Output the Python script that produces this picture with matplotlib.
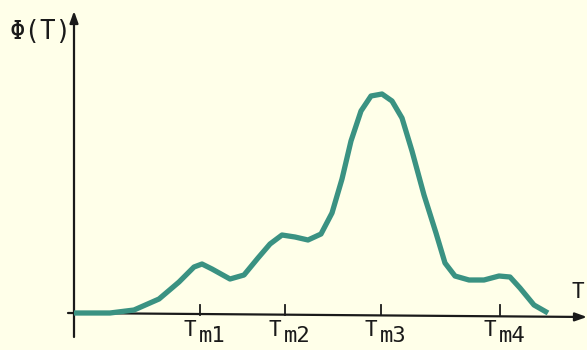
import matplotlib
matplotlib.use("Agg")
import matplotlib.pyplot as plt

# curve values (T in arbitrary units from origin, Phi height)
T = [0, 36, 60, 85, 105, 120, 128, 138, 156, 170, 184, 196, 208, 221, 234, 247,
     258, 268, 277, 287, 297, 308, 318, 328, 338, 350, 362, 371, 381, 395, 410,
     425, 436, 446, 460, 474]
PHI = [0, 0, 3, 14, 31, 46, 49, 44, 34, 38, 55, 69, 78, 76, 73, 79,
       100, 134, 172, 202, 217, 219, 212, 195, 162, 118, 80, 50, 37, 33, 33,
       37, 36, 25, 8, 0]

tick_pos = [126, 211, 307, 426]
tick_sub = ["m1", "m2", "m3", "m4"]

BG = "#FFFFE9"
LINE = "#3A9282"
INK = "#1a1a1a"
FONT = "DejaVu Sans Mono"

fig = plt.figure(figsize=(5.87, 3.5), dpi=100, facecolor=BG)
ax = fig.add_axes([0, 0, 1, 1])
ax.set_facecolor(BG)
ax.set_xlim(-74, 513)
ax.set_ylim(-37, 313)
ax.axis("off")

# axes with arrows
ax.annotate("", xy=(0, 302), xytext=(0, -24),
            arrowprops=dict(arrowstyle="-|>,head_width=0.25,head_length=0.7",
                            color=INK, lw=1.6, shrinkA=0, shrinkB=0))
ax.annotate("", xy=(513, -4), xytext=(-6, 0),
            arrowprops=dict(arrowstyle="-|>,head_width=0.25,head_length=0.7",
                            color=INK, lw=1.6, shrinkA=0, shrinkB=0))

ax.plot(T, PHI, color=LINE, lw=3.8, solid_capstyle="butt", solid_joinstyle="round", zorder=3)

for p, s in zip(tick_pos, tick_sub):
    ax.plot([p, p], [-1.5, 8], color=INK, lw=1.3)
    ax.text(p - 10, -17, "T", ha="center", va="center",
            fontsize=15, color=INK, family=FONT)
    ax.text(p + 12, -23, s, ha="center", va="center",
            fontsize=16, color=INK, family=FONT)

ax.text(-3, 281, "Φ(T)", ha="right", va="center", fontsize=18.5, color=INK,
        family=FONT)
ax.text(504, 21, "T", ha="center", va="center", fontsize=15, color=INK,
        family=FONT)

fig.savefig("out.png", dpi=100, facecolor=BG)
